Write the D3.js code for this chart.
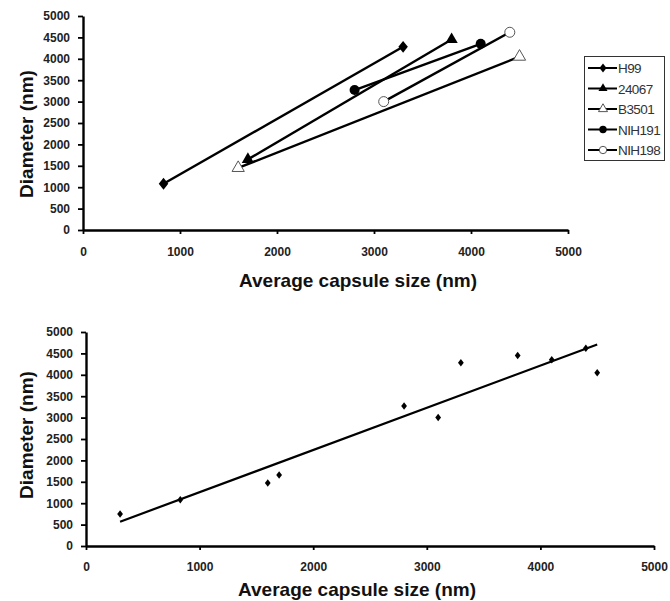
<!DOCTYPE html>
<html><head><meta charset="utf-8">
<script src="https://cdn.jsdelivr.net/npm/d3@7"></script>
<style>body{margin:0;background:#fff}svg{display:block}text{font-family:"Liberation Sans",Arial,sans-serif}</style>
</head><body>
<svg id="c" width="670" height="601"></svg>
<script>
// Data
const strains = ["H99","24067","B3501","NIH191","NIH198"];
const capsuleSize = [[830,3300],[1700,3800],[1600,4500],[2800,4100],[3100,4400]];
const diameter   = [[1080,4280],[1650,4450],[1450,4050],[3270,4350],[3000,4620]];
const pooledX = [300,830,1600,1700,2800,3100,3300,3800,4100,4400,4500];
const pooledY = [750,1080,1470,1660,3270,3000,4280,4450,4350,4620,4050];
const xTicks = [0,1000,2000,3000,4000,5000];
const yTicks = [0,500,1000,1500,2000,2500,3000,3500,4000,4500,5000];
const markerTypes = ["diamond","triangle","triangleOpen","circle","circleOpen"];

const svg = d3.select("#c");

function axes(g, x, y, xTitleY, xTitleX, yTitleX, yTitleY, xPad){
  const ya = g.append("g").attr("transform",`translate(${x.range()[0]},0)`)
    .call(d3.axisLeft(y).tickValues(yTicks).tickFormat(d3.format("d")).tickSize(5).tickSizeOuter(0).tickPadding(8));
  const xa = g.append("g").attr("transform",`translate(0,${y.range()[0]})`)
    .call(d3.axisBottom(x).tickValues(xTicks).tickFormat(d3.format("d")).tickSize(4).tickSizeOuter(0).tickPadding(xPad));
  [ya,xa].forEach(a=>{
    a.select(".domain").attr("stroke","#000").attr("stroke-width",2.4);
    a.selectAll(".tick line").attr("stroke","#000").attr("stroke-width",1.8);
    a.selectAll(".tick text").attr("fill","#222").style("font-size","12px").style("font-weight","bold");
  });
  g.append("text").attr("x",xTitleX).attr("y",xTitleY).attr("text-anchor","middle")
    .style("font-size","19px").style("font-weight","bold").attr("fill","#111").text("Average capsule size (nm)");
  g.append("text").attr("transform",`translate(${yTitleX},${yTitleY}) rotate(-90)`).attr("text-anchor","middle")
    .style("font-size","19px").style("font-weight","bold").attr("fill","#111").text("Diameter (nm)");
}

function marker(g, type, cx, cy, k){
  k = k||1;
  if(type==="diamond") g.append("path").attr("d",d3.symbol(d3.symbolDiamond,50*k)()).attr("transform",`translate(${cx},${cy}) scale(1.25,0.9)`).attr("fill","#000");
  else if(type==="triangle") g.append("path").attr("d",d3.symbol(d3.symbolTriangle,65*k)()).attr("transform",`translate(${cx},${cy})`).attr("fill","#000");
  else if(type==="triangleOpen") g.append("path").attr("d",d3.symbol(d3.symbolTriangle,65*k)()).attr("transform",`translate(${cx},${cy})`).attr("fill","#fff").attr("stroke","#555").attr("stroke-width",1);
  else if(type==="circle") g.append("circle").attr("cx",cx).attr("cy",cy).attr("r",5*Math.sqrt(k)).attr("fill","#000");
  else g.append("circle").attr("cx",cx).attr("cy",cy).attr("r",5*Math.sqrt(k)).attr("fill","#fff").attr("stroke","#555").attr("stroke-width",1);
}

// Top chart
const x1 = d3.scaleLinear().domain([0,5000]).range([83,568]);
const y1 = d3.scaleLinear().domain([0,5000]).range([230,16]);
const g1 = svg.append("g");
axes(g1, x1, y1, 287, 358, 33, 134, 13);
const line1 = d3.line().x(d=>x1(d[0])).y(d=>y1(d[1]));
strains.forEach((s,i)=>{
  const pts = capsuleSize[i].map((v,j)=>[v, diameter[i][j]]);
  g1.append("path").attr("d",line1(pts)).attr("fill","none").attr("stroke","#000").attr("stroke-width",2.4);
});
strains.forEach((s,i)=>{
  capsuleSize[i].forEach((v,j)=>marker(g1, markerTypes[i], x1(v), y1(diameter[i][j])));
});
// Legend
const lg = svg.append("g");
lg.append("rect").attr("x",584.5).attr("y",56.5).attr("width",80).attr("height",104).attr("fill","#fff").attr("stroke","#333").attr("stroke-width",1);
strains.forEach((s,i)=>{
  const ly = 68 + i*20.5;
  lg.append("line").attr("x1",588).attr("x2",617).attr("y1",ly).attr("y2",ly).attr("stroke","#000").attr("stroke-width",2);
  marker(lg, markerTypes[i], 603, ly, 0.55);
  lg.append("text").attr("x",618).attr("y",ly+5).style("font-size","13.5px").attr("fill","#333").attr("letter-spacing","-0.6").text(s);
});

// Bottom chart
const x2 = d3.scaleLinear().domain([0,5000]).range([86,654]);
const y2 = d3.scaleLinear().domain([0,5000]).range([546,332]);
const g2 = svg.append("g");
axes(g2, x2, y2, 596, 357, 33, 435, 12);
// regression trend line
const mx = d3.mean(pooledX), my = d3.mean(pooledY);
const slope = d3.sum(pooledX.map((v,i)=>(v-mx)*(pooledY[i]-my))) / d3.sum(pooledX.map(v=>(v-mx)*(v-mx)));
const icpt = my - slope*mx;
const xr = d3.extent(pooledX);
g2.append("line").attr("x1",x2(xr[0])).attr("y1",y2(icpt+slope*xr[0])).attr("x2",x2(xr[1])).attr("y2",y2(icpt+slope*xr[1]))
  .attr("stroke","#000").attr("stroke-width",2.2);
pooledX.forEach((v,i)=>{
  g2.append("path").attr("d",d3.symbol(d3.symbolDiamond,20)()).attr("transform",`translate(${x2(v)},${y2(pooledY[i])}) scale(1.2,0.9)`).attr("fill","#000");
});
</script>
</body></html>
